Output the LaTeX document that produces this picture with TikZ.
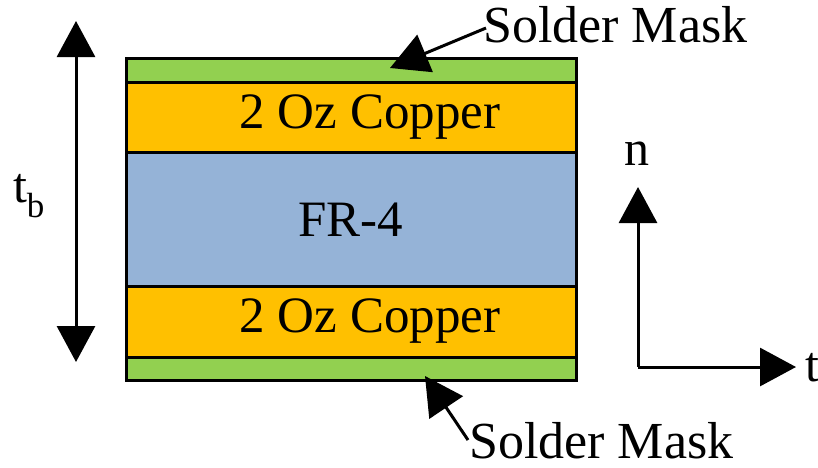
\documentclass[tikz,border=0pt]{standalone}
\usepackage{fontspec}
\setmainfont{Liberation Serif}
\usetikzlibrary{arrows.meta}
\definecolor{maskgreen}{RGB}{146,208,80}
\definecolor{copper}{RGB}{255,192,0}
\definecolor{frfour}{RGB}{149,179,215}
\tikzset{
  layer/.style={draw=black, line width=3pt, minimum width=450pt, inner sep=0pt, outer sep=0pt},
  bigarrow/.style={line width=3pt, -{Triangle[width=38pt,length=36pt]}},
  dblarrow/.style={line width=3pt, {Triangle[width=38pt,length=36pt]}-{Triangle[width=38pt,length=36pt]}},
  callout/.style={line width=3pt, -{Triangle[width=40pt,length=38pt]}},
  bodytext/.style={font=\fontsize{51}{56}\selectfont},
  labeltext/.style={font=\fontsize{52}{58}\selectfont, inner sep=0pt},
}
\begin{document}
\begin{tikzpicture}[x=1pt,y=-1pt]
\useasboundingbox (0,0) rectangle (818,467);
% board stack-up, top to bottom
\node[layer, fill=maskgreen, minimum height=24pt] (smtop) at (351,70) {};
\node[layer, fill=copper, minimum height=70pt] (cutop) at (351,117.5) {};
\node[layer, fill=frfour, minimum height=134pt] (core) at (351,219.5) {};
\node[layer, fill=copper, minimum height=71pt] (cubot) at (351,321.5) {};
\node[layer, fill=maskgreen, minimum height=23pt] (smbot) at (351,368.5) {};
\node[bodytext] at ([xshift=19pt]cutop) {2 Oz Copper};
\node[bodytext] at (core) {FR-4};
\node[bodytext] at ([xshift=19pt]cubot) {2 Oz Copper};
% solder mask callouts
\node[labeltext, anchor=base west] (lbltop) at (483,42) {Solder Mask};
\node[labeltext, anchor=base west] (lblbot) at (469,458) {Solder Mask};
\coordinate (tiptop) at (390,68);
\coordinate (tipbot) at (425,376);
\coordinate (starttop) at (486,28);
\coordinate (startbot) at (468,440);
\draw[callout] (starttop) -- (tiptop);
\draw[callout] (startbot) -- (tipbot);
% board thickness
\coordinate (tbtop) at (76,21);
\coordinate (tbbot) at (76,362);
\draw[dblarrow] (tbtop) -- (tbbot);
\node[font=\fontsize{50}{56}\selectfont] (tb) at (29,196) {t\textsubscript{b}};
% normal / tangential axes
\coordinate (origin) at (638,367);
\coordinate (ntip) at (638,187);
\coordinate (ttip) at (796,367);
\draw[bigarrow] (origin) -- (ntip);
\draw[bigarrow] (origin) -- (ttip);
\node[font=\fontsize{50}{56}\selectfont, anchor=base] (nlbl) at (637,165) {n};
\node[font=\fontsize{50}{56}\selectfont, anchor=base west, inner sep=0pt] (tlbl) at (805,381) {t};
\end{tikzpicture}
\end{document}
